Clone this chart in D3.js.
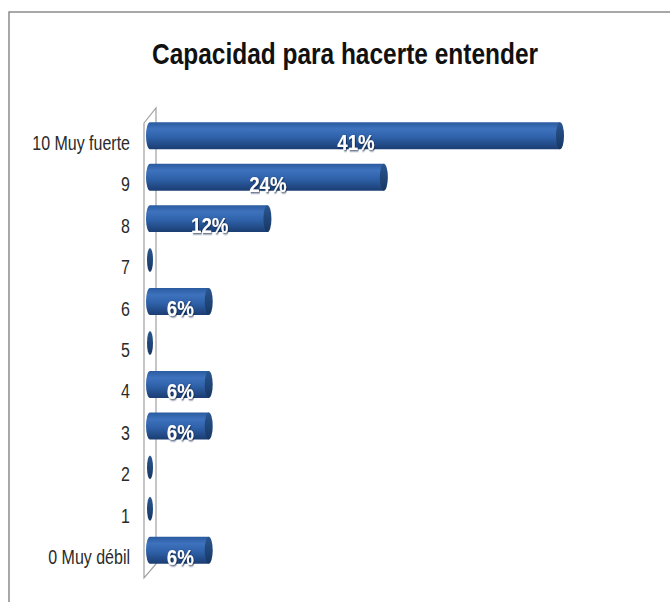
<!DOCTYPE html>
<html><head><meta charset="utf-8">
<script src="https://cdn.jsdelivr.net/npm/d3@7"></script>
<style>
html,body{margin:0;padding:0;background:#fff;}
svg{display:block;}
</style></head>
<body>
<script>
const title = "Capacidad para hacerte entender";
const categories = ["10 Muy fuerte","9","8","7","6","5","4","3","2","1","0 Muy débil"];
const values = [41.2,23.5,11.8,0,5.9,0,5.9,5.9,0,0,5.9];
const valueLabels = ["41%","24%","12%","","6%","","6%","6%","","","6%"];

const W = 670, H = 602;
const svg = d3.select("body").append("svg").attr("width", W).attr("height", H);
const defs = svg.append("defs");

const g1 = defs.append("linearGradient").attr("id","bar").attr("x1",0).attr("y1",0).attr("x2",0).attr("y2",1);
g1.append("stop").attr("offset","0%").attr("stop-color","#2a5ba0");
g1.append("stop").attr("offset","25%").attr("stop-color","#3e72bd");
g1.append("stop").attr("offset","55%").attr("stop-color","#2f62aa");
g1.append("stop").attr("offset","100%").attr("stop-color","#1b3d72");
const g2 = defs.append("linearGradient").attr("id","cap").attr("x1",0).attr("y1",0).attr("x2",0).attr("y2",1);
g2.append("stop").attr("offset","0%").attr("stop-color","#2a568f");
g2.append("stop").attr("offset","100%").attr("stop-color","#173764");
const f = defs.append("filter").attr("id","ts").attr("x","-20%").attr("y","-20%").attr("width","140%").attr("height","140%");
f.append("feDropShadow").attr("dx",1).attr("dy",1).attr("stdDeviation",0.8).attr("flood-color","#0b2148").attr("flood-opacity",0.9);

// outer frame
svg.append("rect").attr("x",9).attr("y",12).attr("width",W).attr("height",H)
  .attr("fill","#fff").attr("stroke","#8c8c8c").attr("stroke-width",1.5);

svg.append("text").attr("x",345).attr("y",64).attr("text-anchor","middle")
  .attr("font-family","'Liberation Sans',Arial,sans-serif")
  .attr("font-weight","bold").attr("font-size",30).attr("fill","#111")
  .attr("textLength",386).attr("lengthAdjust","spacingAndGlyphs").text(title);

const x = d3.scaleLinear().domain([0,41.2]).range([150,560]);
const y = d3.scaleBand().domain(categories).range([115,571]).paddingInner(0.35).paddingOuter(0.175);

// 3D wall
const wx0 = x(0)-6, wx1 = x(0)+6;
const wTop = y.range()[0], wBot = y.range()[1];
const wall = svg.append("g").attr("fill","none").attr("stroke","#a0a0a0").attr("stroke-width",1.2);
wall.append("path").attr("d",`M${wx0},${wTop+8}L${wx1},${wTop-7}L${wx1},${wBot-7}L${wx0},${wBot+7}Z`).attr("fill","#fff");

// category labels
svg.append("g").selectAll("text").data(categories).join("text")
  .attr("transform",d=>`translate(130,${y(d)+y.bandwidth()/2+14}) scale(0.82,1)`)
  .attr("text-anchor","end")
  .attr("font-family","'Liberation Sans',Arial,sans-serif")
  .attr("font-size",19.5).attr("fill","#2a2a2a").text(d=>d);

// bars
const rx = 4;
const bars = svg.append("g").selectAll("g").data(categories).join("g");
bars.each(function(d,i){
  const gg = d3.select(this);
  const h = y.bandwidth();
  const top = y(d), xs = x(0), xe = x(values[i]);
  if (values[i] > 0) {
    gg.append("path")
      .attr("d",`M${xe},${top}L${xs},${top}A${rx},${h/2} 0 0 0 ${xs},${top+h}L${xe},${top+h}Z`)
      .attr("fill","url(#bar)");
    gg.append("ellipse").attr("cx",xe).attr("cy",top+h/2).attr("rx",rx).attr("ry",h/2)
      .attr("fill","url(#cap)");
    gg.append("text")
      .attr("transform",`translate(${(xs+xe)/2+1},${top+h+1})scale(0.85,1)`)
      .attr("text-anchor","middle")
      .attr("font-family","'Liberation Sans',Arial,sans-serif")
      .attr("font-weight","bold").attr("font-size",22).attr("fill","#fff")
      .attr("filter","url(#ts)").text(valueLabels[i]);
  } else {
    gg.append("ellipse").attr("cx",xs).attr("cy",top+h/2).attr("rx",3).attr("ry",h/2-1.5)
      .attr("fill","url(#cap)");
  }
});
</script>
</body></html>
